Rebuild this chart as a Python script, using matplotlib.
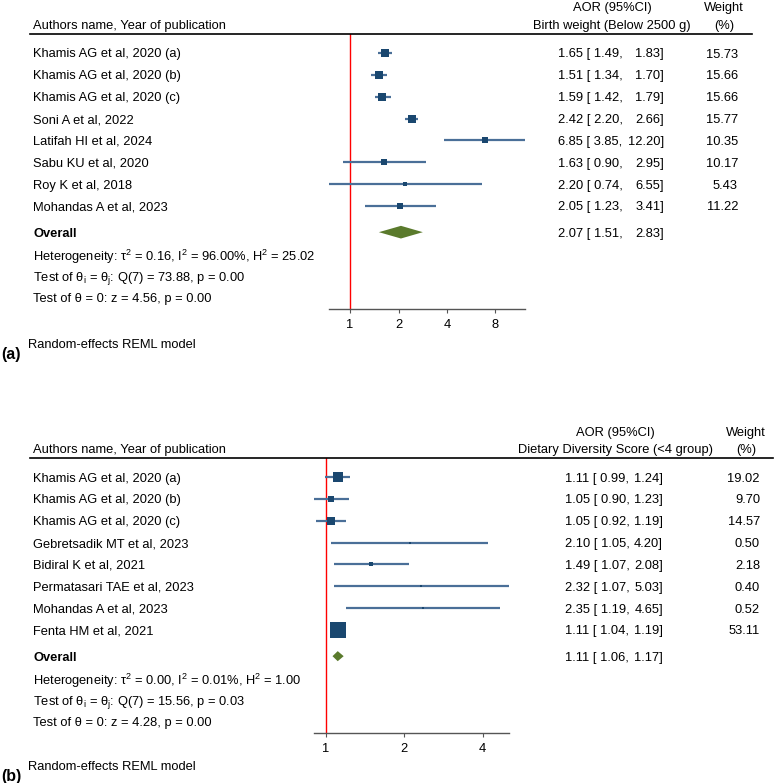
import numpy as np
import matplotlib
matplotlib.use("Agg")
import matplotlib.pyplot as plt
from matplotlib.transforms import blended_transform_factory
from matplotlib.lines import Line2D

plt.rcParams['font.family'] = ['Liberation Sans', 'DejaVu Sans']
plt.rcParams['mathtext.fontset'] = 'custom'
plt.rcParams['mathtext.rm'] = 'Liberation Sans'

# ---- data panel (a): birth weight ----
studies_a = ["Khamis AG et al, 2020 (a)", "Khamis AG et al, 2020 (b)", "Khamis AG et al, 2020 (c)",
             "Soni A et al, 2022", "Latifah HI et al, 2024", "Sabu KU et al, 2020",
             "Roy K et al, 2018", "Mohandas A et al, 2023"]
aor_a = [1.65, 1.51, 1.59, 2.42, 6.85, 1.63, 2.20, 2.05]
lo_a = [1.49, 1.34, 1.42, 2.20, 3.85, 0.90, 0.74, 1.23]
hi_a = [1.83, 1.70, 1.79, 2.66, 12.20, 2.95, 6.55, 3.41]
wt_a = [15.73, 15.66, 15.66, 15.77, 10.35, 10.17, 5.43, 11.22]
overall_a = [2.07, 1.51, 2.83]
stats_a = [r"Heterogeneity: τ$^\mathregular{2}$ = 0.16, I$^\mathregular{2}$ = 96.00%, H$^\mathregular{2}$ = 25.02",
           r"Test of θ$_\mathregular{i}$ = θ$_\mathregular{j}$: Q(7) = 73.88, p = 0.00",
           "Test of θ = 0: z = 4.56, p = 0.00"]
ticks_a = [1, 2, 4, 8]

# ---- data panel (b): dietary diversity ----
studies_b = ["Khamis AG et al, 2020 (a)", "Khamis AG et al, 2020 (b)", "Khamis AG et al, 2020 (c)",
             "Gebretsadik MT et al, 2023", "Bidiral K et al, 2021", "Permatasari TAE et al, 2023",
             "Mohandas A et al, 2023", "Fenta HM et al, 2021"]
aor_b = [1.11, 1.05, 1.05, 2.10, 1.49, 2.32, 2.35, 1.11]
lo_b = [0.99, 0.90, 0.92, 1.05, 1.07, 1.07, 1.19, 1.04]
hi_b = [1.24, 1.23, 1.19, 4.20, 2.08, 5.03, 4.65, 1.19]
wt_b = [19.02, 9.70, 14.57, 0.50, 2.18, 0.40, 0.52, 53.11]
overall_b = [1.11, 1.06, 1.17]
stats_b = [r"Heterogeneity: τ$^\mathregular{2}$ = 0.00, I$^\mathregular{2}$ = 0.01%, H$^\mathregular{2}$ = 1.00",
           r"Test of θ$_\mathregular{i}$ = θ$_\mathregular{j}$: Q(7) = 15.56, p = 0.03",
           "Test of θ = 0: z = 4.28, p = 0.00"]
ticks_b = [1, 2, 4]

W, H = 775, 783
FS = 9.3
VA = 'center_baseline'
navy = '#1a476f'
ci_col = '#4a6f98'
green = '#5a7a2c'

fig = plt.figure(figsize=(W / 100, H / 100), dpi=100)


def fx(px):
    return px / W


def draw_panel(studies, aor, lo, hi, wt, overall, stats, ticks, top, bottom, left, right,
               subtitle, val_x0, val_x1, wt_x, aor_cx, wt_cx, line_end, msize, dia_h, tag, tag_y):
    row = 21.85
    first = top + 19
    ax = fig.add_axes([fx(left), 1 - bottom / H, fx(right - left), (bottom - top) / H])
    ax.set_xscale('log', base=2)
    ax.set_xlim(min(lo), max(hi))
    ax.set_ylim((bottom - first) / row, (top - first) / row)
    for s in ['top', 'right', 'left']:
        ax.spines[s].set_visible(False)
    ax.spines['bottom'].set_color('#555555')
    ax.spines['bottom'].set_linewidth(1.0)
    ax.set_yticks([])
    ax.set_xticks(ticks)
    ax.set_xticklabels([str(t) for t in ticks])
    ax.xaxis.set_minor_locator(matplotlib.ticker.NullLocator())
    ax.tick_params(axis='x', length=3, width=0.8, color='#555555', labelsize=FS, pad=4)
    ax.axvline(1, color='red', lw=1.0, zorder=1)

    y = np.arange(len(studies))
    ax.hlines(y, lo, hi, color=ci_col, lw=1.6, zorder=2)
    for yi, a, w in zip(y, aor, wt):
        side = max(msize * np.sqrt(w), 2.4)
        ax.plot(a, yi, marker='s', ms=side * 0.72, color=navy, mec=navy, mew=0, zorder=3)

    yo = 8.2
    e, l, h = overall
    ax.fill([l, e, h, e], [yo, yo - dia_h, yo, yo + dia_h], color=green, lw=0, zorder=3)

    tr = blended_transform_factory(fig.transFigure, ax.transData)
    for yi, name, a, l_, h_, w in zip(y, studies, aor, lo, hi, wt):
        ax.text(fx(33), yi, name, transform=tr, fontsize=FS, va=VA, ha='left')
        ax.text(fx(val_x0), yi, f"{a:.2f} [ {l_:.2f},", transform=tr, fontsize=FS, va=VA, ha='left')
        ax.text(fx(val_x1), yi, f"{h_:.2f}]", transform=tr, fontsize=FS, va=VA, ha='right')
        ax.text(fx(wt_x), yi, f"{w:.2f}", transform=tr, fontsize=FS, va=VA, ha='right')
    ax.text(fx(33), yo, "Overall", transform=tr, fontsize=FS, va=VA, ha='left', fontweight='bold')
    ax.text(fx(val_x0), yo, f"{e:.2f} [ {l:.2f},", transform=tr, fontsize=FS, va=VA, ha='left')
    ax.text(fx(val_x1), yo, f"{h:.2f}]", transform=tr, fontsize=FS, va=VA, ha='right')
    for k, s in enumerate(stats):
        ax.text(fx(33), yo + 1 + k, s, transform=tr, fontsize=FS, va=VA, ha='left')

    # header
    hy1 = (top - 27 - first) / row
    hy2 = (top - 10 - first) / row
    ax.text(fx(33), hy2, "Authors name, Year of publication", transform=tr, fontsize=FS, va=VA)
    ax.text(fx(aor_cx), hy1, "AOR (95%CI)", transform=tr, fontsize=FS, va=VA, ha='center')
    ax.text(fx(aor_cx), hy2, subtitle, transform=tr, fontsize=FS, va=VA, ha='center')
    ax.text(fx(wt_cx), hy1, "Weight", transform=tr, fontsize=FS, va=VA, ha='center')
    ax.text(fx(wt_cx), hy2, "(%)", transform=tr, fontsize=FS, va=VA, ha='center')
    fig.add_artist(Line2D([fx(30), fx(line_end)], [1 - top / H, 1 - top / H],
                          color='black', lw=1.2))

    fig.text(fx(1), 1 - tag_y / H, tag, fontsize=11.5, fontweight='bold', va=VA, ha='left')
    fig.text(fx(28), 1 - (tag_y - 9) / H, "Random-effects REML model", fontsize=FS, va=VA, ha='left')


draw_panel(studies_a, aor_a, lo_a, hi_a, wt_a, overall_a, stats_a, ticks_a,
           top=34, bottom=309, left=329, right=525, subtitle="Birth weight (Below 2500 g)",
           val_x0=558, val_x1=664, wt_x=738, aor_cx=612, wt_cx=724, line_end=752,
           msize=1.85, dia_h=0.29, tag="(a)", tag_y=353)

draw_panel(studies_b, aor_b, lo_b, hi_b, wt_b, overall_b, stats_b, ticks_b,
           top=458, bottom=733, left=314, right=508.6, subtitle="Dietary Diversity Score (<4 group)",
           val_x0=565, val_x1=663, wt_x=760, aor_cx=615, wt_cx=746, line_end=773,
           msize=2.1, dia_h=0.23, tag="(b)", tag_y=775)

fig.savefig("out.png", dpi=100)
